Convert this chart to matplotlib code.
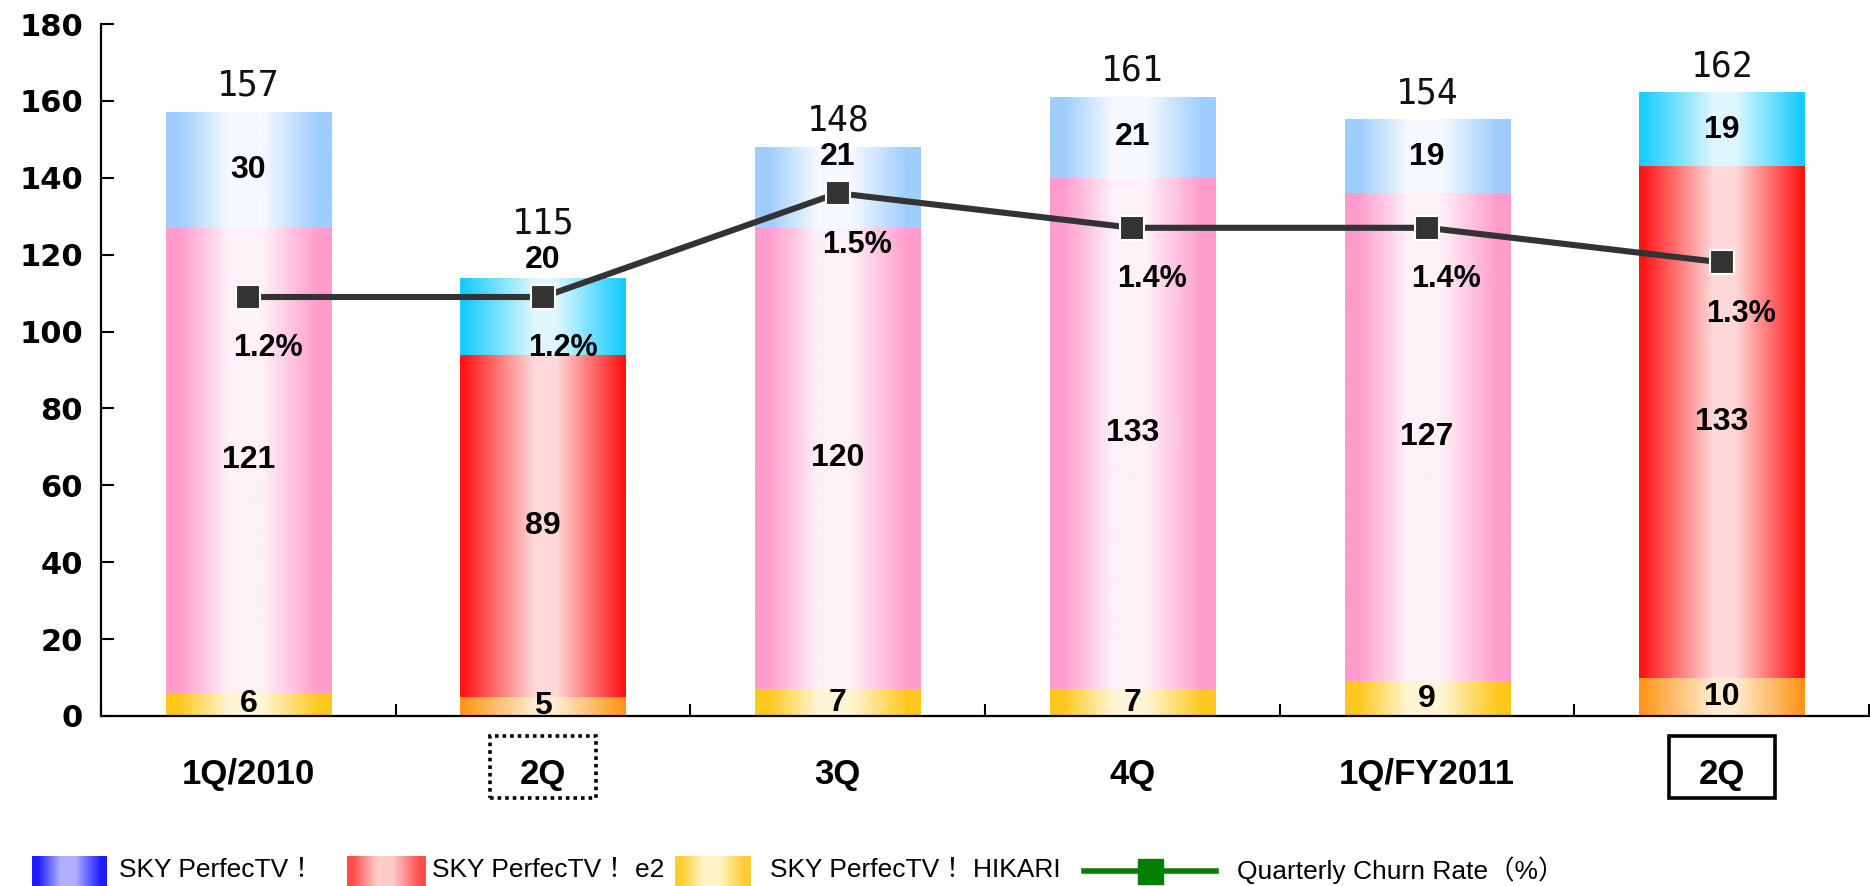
import numpy as np
import matplotlib
matplotlib.use('Agg')
import matplotlib.pyplot as plt
from matplotlib.colors import to_rgb
from matplotlib.patches import Rectangle
import matplotlib.transforms as mtransforms

# ---------------- data ----------------
categories = ['1Q/2010', '2Q', '3Q', '4Q', '1Q/FY2011', '2Q']
hikari = [6, 5, 7, 7, 9, 10]          # SKY PerfecTV! HIKARI (bottom)
e2 = [121, 89, 120, 133, 127, 133]    # SKY PerfecTV! e2 (middle)
sky = [30, 20, 21, 21, 19, 19]        # SKY PerfecTV! (top)
totals = [157, 115, 148, 161, 154, 162]
churn = [1.2, 1.2, 1.5, 1.4, 1.4, 1.3]  # Quarterly churn rate (%)
highlight = [False, True, False, False, False, True]
box_style = {1: 'dotted', 5: 'solid'}
yticks = list(range(0, 181, 20))
legend_labels = ['SKY PerfecTV\uff01', 'SKY PerfecTV\uff01 e2',
                 'SKY PerfecTV\uff01 HIKARI', 'Quarterly Churn Rate\uff08%\uff09']

# ---------------- styles ----------------
normal_cols = {  # (edge, center)
    'top': ('#9fcdff', '#f6faff'),
    'mid': ('#ff9ccc', '#fff1f7'),
    'bot': ('#ffc81e', '#fff6d6'),
}
hi_cols = {
    'top': ('#17ccff', '#def7ff'),
    'mid': ('#ff1515', '#ffd9da'),
    'bot': ('#ff961a', '#ffecd0'),
}
BOLD = dict(family=['Liberation Sans', 'DejaVu Sans'], weight='bold')


def gradient(edge, center, n=256, hi=False):
    x = np.linspace(0, 1, n)
    if hi:
        f = np.interp(x, [0, 0.02, 0.45, 0.58, 0.98, 1], [0, 0, 1, 1, 0, 0])
    else:
        f = np.interp(x, [0, 0.08, 0.38, 0.58, 0.92, 1], [0, 0, 1, 1, 0, 0])
    e = np.array(to_rgb(edge))
    c = np.array(to_rgb(center))
    img = e[None, :] + (c - e)[None, :] * f[:, None]
    return img[None, :, :]


fig = plt.figure(figsize=(18.7, 8.86), dpi=100)
ax = fig.add_axes([0.054, 0.1919, 0.9455, 0.781])

x = np.arange(len(categories))
width = 0.56
bot2 = np.array(hikari) + np.array(e2)

layers = [('bot', hikari, np.zeros(len(x))),
          ('mid', e2, np.array(hikari)),
          ('top', sky, bot2)]
for key, vals, bottoms in layers:
    bars = ax.bar(x, vals, width, bottom=bottoms, color='none', linewidth=0, zorder=2)
    for i, p in enumerate(bars.patches):
        cols = hi_cols if highlight[i] else normal_cols
        img = gradient(*cols[key], hi=highlight[i])
        ax.imshow(img, extent=(p.get_x(), p.get_x() + p.get_width(),
                               p.get_y(), p.get_y() + p.get_height()),
                  aspect='auto', interpolation='bilinear', zorder=2)

ax.set_xlim(-0.5, len(x) - 0.5)
ax.set_ylim(0, 180)
ax.set_yticks(yticks)

# churn rate line on secondary axis
ax2 = ax.twinx()
ax2.set_ylim(-0.011, 1.989)
ax2.plot(x, churn, color='#333333', lw=4.4, marker='s', ms=17,
         mfc='#333333', mec='white', mew=1.5, zorder=5)
ax2.axis('off')
for i, c in enumerate(churn):
    ax2.annotate(f'{c:.1f}%', (i, c), xytext=(14, -37), textcoords='offset points',
                 ha='center', va='center', fontsize=22, **BOLD, zorder=6)

# value labels
fig.canvas.draw()
LBL = 23
for i in range(len(x)):
    my = ax.transData.inverted().transform(ax2.transData.transform((i, churn[i])))[1]
    ax.text(i, hikari[i] / 2, str(hikari[i]), ha='center', va='center', fontsize=LBL, **BOLD, zorder=4)
    ax.text(i, hikari[i] + e2[i] / 2, str(e2[i]), ha='center', va='center', fontsize=LBL, **BOLD, zorder=4)
    top = bot2[i] + sky[i]
    ty = max(bot2[i] + sky[i] / 2, my + 9.5)
    ax.text(i, ty, str(sky[i]), ha='center', va='center', fontsize=LBL, **BOLD, zorder=4)
    tot_y = max(top + 7, ty + 9.5)
    ax.text(i, tot_y, str(totals[i]), ha='center', va='center', fontsize=25,
            family='DejaVu Sans Mono', color='#111111', zorder=4)

# axes styling
for s in ['top', 'right']:
    ax.spines[s].set_visible(False)
for s in ['left', 'bottom']:
    ax.spines[s].set_linewidth(1.6)
    ax.spines[s].set_color('black')
ax.tick_params(axis='y', direction='in', length=9, width=1.5, pad=13, labelsize=22)
ax.set_xticks(x)
ax.set_xticklabels(categories)
ax.tick_params(axis='x', length=0, pad=30, labelsize=25)
ax.set_xticks(np.arange(-0.5, len(x), 1), minor=True)
ax.tick_params(axis='x', which='minor', direction='in', length=8.5, width=1.5)
for lab in ax.get_xticklabels():
    lab.set_fontfamily(['Liberation Sans', 'DejaVu Sans'])
    lab.set_fontweight('bold')
for lab in ax.get_yticklabels():
    lab.set_fontfamily(['DejaVu Sans'])
    lab.set_fontweight('bold')

# boxes around highlighted categories
trans = mtransforms.blended_transform_factory(ax.transData, ax.transAxes)
for i, ls in box_style.items():
    r = Rectangle((i - 0.18, -0.1185), 0.36, 0.0896, transform=trans, fill=False,
                  edgecolor='black', lw=2.6,
                  linestyle=(0, (1, 1.1)) if ls == 'dotted' else '-', clip_on=False)
    ax.add_patch(r)

# ---------------- legend (bottom strip) ----------------
lg = fig.add_axes([0, 0, 1, 40 / 886])
lg.set_xlim(0, 1870)
lg.set_ylim(40, 0)
lg.axis('off')
LEG_FONT = dict(family=['Liberation Sans', 'Noto Sans CJK JP'], fontsize=19)
legend_swatches = [('#1c1cff', '#b0b0ff', 32, 107, 119),
                   ('#ff4d4d', '#ffcccc', 347, 426, 432),
                   ('#ffcc33', '#fff4c4', 675, 751, 770)]
for k, (e, c, x0, x1, tx) in enumerate(legend_swatches):
    lg.imshow(gradient(e, c), extent=(x0, x1, 40, 10), aspect='auto', interpolation='bilinear')
    lg.text(tx, 24, legend_labels[k], ha='left', va='center', **LEG_FONT)
lg.plot([1084, 1216], [25, 25], color='#008000', lw=4)
lg.plot([1150], [25], marker='s', ms=18, color='#008000', clip_on=False)
lg.text(1237, 24, legend_labels[3], ha='left', va='center', **LEG_FONT)
lg.set_xlim(0, 1870)
lg.set_ylim(40, 0)

fig.savefig('out.png', dpi=100)
